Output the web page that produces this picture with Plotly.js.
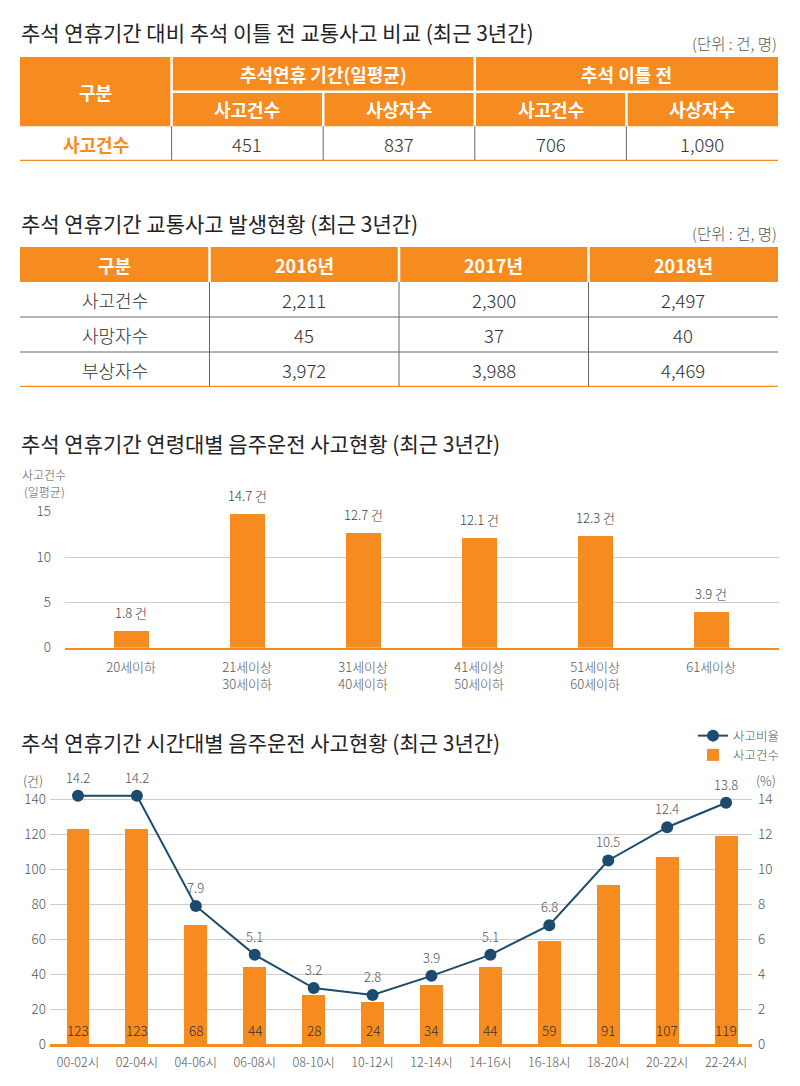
<!DOCTYPE html>
<html>
<head>
<meta charset="utf-8">
<script src="https://cdn.plot.ly/plotly-3.0.1.min.js"></script>
<style>
html,body{margin:0;padding:0;background:#ffffff;}
#chart{width:800px;height:1086px;}
</style>
</head>
<body>
<div id="chart"></div>
<script>
// ---------------- DATA ----------------
const titles = [
  '추석 연휴기간 대비 추석 이틀 전 교통사고 비교 (최근 3년간)',
  '추석 연휴기간 교통사고 발생현황 (최근 3년간)',
  '추석 연휴기간 연령대별 음주운전 사고현황 (최근 3년간)',
  '추석 연휴기간 시간대별 음주운전 사고현황 (최근 3년간)'
];
const unitNote = '(단위 : 건, 명)';

// Table 1
const t1Corner = '구분';
const t1Groups = ['추석연휴 기간(일평균)', '추석 이틀 전'];
const t1SubHeaders = ['사고건수', '사상자수', '사고건수', '사상자수'];
const t1RowLabel = '사고건수';
const t1Values = [451, 837, 706, 1090];

// Table 2
const t2Headers = ['구분', '2016년', '2017년', '2018년'];
const t2RowLabels = ['사고건수', '사망자수', '부상자수'];
const t2Y2016 = [2211, 45, 3972];
const t2Y2017 = [2300, 37, 3988];
const t2Y2018 = [2497, 40, 4469];

// Chart 3: age groups
const ageGroups = ['20세이하', '21세이상<br>30세이하', '31세이상<br>40세이하', '41세이상<br>50세이하', '51세이상<br>60세이하', '61세이상'];
const ageCounts = [1.8, 14.7, 12.7, 12.1, 12.3, 3.9];
const ageUnit = '건';
const ageAxisLabel = ['사고건수', '(일평균)'];

// Chart 4: time slots
const timeSlots = ['00-02시', '02-04시', '04-06시', '06-08시', '08-10시', '10-12시', '12-14시', '14-16시', '16-18시', '18-20시', '20-22시', '22-24시'];
const timeCounts = [123, 123, 68, 44, 28, 24, 34, 44, 59, 91, 107, 119];
const timeRates = [14.2, 14.2, 7.9, 5.1, 3.2, 2.8, 3.9, 5.1, 6.8, 10.5, 12.4, 13.8];
const countName = '사고건수';
const rateName = '사고비율';
const leftUnit = '(건)';
const rightUnit = '(%)';

// ---------------- STYLE ----------------
const W = 800, H = 1086;
const ORANGE = '#F68B1F';
const NAVY = '#1B4B6E';
const GRID = '#cccccc';
const FONT = '"Noto Sans CJK KR", "Noto Sans", sans-serif';
const LIGHT = 300;
const px = p => p / W;
const py = p => 1 - p / H;
const fmt = n => n.toLocaleString('en-US');

const shapes = [];
const annotations = [];

function line(xref, yref, x0, y0, x1, y1, color, width) {
  shapes.push({type: 'line', xref, yref, x0, y0, x1, y1, line: {color, width}, layer: 'above'});
}
function rect(xref, yref, x0, y0, x1, y1, color) {
  shapes.push({type: 'rect', xref, yref, x0, y0, x1, y1, fillcolor: color, line: {width: 0}, layer: 'below'});
}
function text(xref, yref, x, y, t, size, color, weight, extra) {
  annotations.push(Object.assign({xref, yref, x, y, text: t, showarrow: false,
    font: {family: FONT, size, color, weight: weight || 400}}, extra || {}));
}

// Titles
const titleY = [31.5, 222.5, 442.5, 742.5];
titles.forEach((t, i) => text('paper', 'paper', px(19), py(titleY[i]), t, 21, '#222222', 400, {xanchor: 'left', yanchor: 'middle'}));
text('paper', 'paper', px(779), py(42.5), unitNote, 15.5, '#555555', LIGHT, {xanchor: 'right', yanchor: 'middle'});
text('paper', 'paper', px(779), py(232.5), unitNote, 15.5, '#555555', LIGHT, {xanchor: 'right', yanchor: 'middle'});

// ---------- Table 1 (axes x4/y4) ----------
const nc1 = 1 + t1SubHeaders.length;
rect('x4', 'y4', 0, 0, nc1, 2, ORANGE);
text('x4', 'y4', 0.5, 1, t1Corner, 18, '#ffffff', 700);
t1Groups.forEach((g, i) => text('x4', 'y4', 1 + i * 2 + 1, 0.5, g, 18, '#ffffff', 700));
t1SubHeaders.forEach((s, i) => text('x4', 'y4', 1 + i + 0.5, 1.5, s, 18, '#ffffff', 700));
text('x4', 'y4', 0.5, 2.5, t1RowLabel, 18, ORANGE, 700);
t1Values.forEach((v, i) => text('x4', 'y4', 1 + i + 0.5, 2.5, fmt(v), 18.5, '#333333', LIGHT));
// header separators
line('x4', 'y4', 1, 0, 1, 2, '#ffffff', 2.5);
t1Groups.forEach((g, i) => { if (i > 0) line('x4', 'y4', 1 + i * 2, 0, 1 + i * 2, 2, '#ffffff', 2.5); });
line('x4', 'y4', 1, 1, nc1, 1, '#ffffff', 2.5);
t1SubHeaders.forEach((s, i) => { if (i > 0 && i % 2 === 1) line('x4', 'y4', 1 + i, 1, 1 + i, 2, '#ffffff', 2.5); });
// body separators
t1SubHeaders.forEach((s, i) => line('x4', 'y4', 1 + i, 2, 1 + i, 3, '#666666', 1));
line('x4', 'y4', 0, 3, nc1, 3, ORANGE, 2.5);

// ---------- Table 2 (axes x5/y5) ----------
const nc2 = t2Headers.length;
const nr2 = t2RowLabels.length;
rect('x5', 'y5', 0, 0, nc2, 1, ORANGE);
t2Headers.forEach((h, i) => text('x5', 'y5', i + 0.5, 0.5, h, 18, '#ffffff', 700));
for (let i = 1; i < nc2; i++) {
  line('x5', 'y5', i, 0, i, 1, '#ffffff', 2.5);
  line('x5', 'y5', i, 1, i, 1 + nr2, '#666666', 1);
}
for (let r = 1; r < nr2; r++) line('x5', 'y5', 0, 1 + r, nc2, 1 + r, '#666666', 1);
line('x5', 'y5', 0, 1 + nr2, nc2, 1 + nr2, ORANGE, 2.5);
const t2Cols = [t2Y2016, t2Y2017, t2Y2018];
t2RowLabels.forEach((lab, r) => {
  text('x5', 'y5', 0.5, 1 + r + 0.5, lab, 18, '#333333', LIGHT);
  t2Cols.forEach((col, c) => text('x5', 'y5', 1 + c + 0.5, 1 + r + 0.5, fmt(col[r]), 18.5, '#333333', LIGHT));
});

// ---------- Chart 3 labels ----------
ageGroups.forEach((g, i) => text('x', 'y', g, ageCounts[i], ageCounts[i] + ' ' + ageUnit, 13, '#444444', LIGHT, {yanchor: 'bottom', yshift: 7}));
text('paper', 'paper', px(44), py(475), ageAxisLabel[0], 12, '#555555', LIGHT, {xanchor: 'center', yanchor: 'middle', borderpad: 0});
text('paper', 'paper', px(44), py(492), ageAxisLabel[1], 12, '#555555', LIGHT, {xanchor: 'center', yanchor: 'middle', borderpad: 0});

// ---------- Chart 4 labels ----------
timeSlots.forEach((s, i) => {
  text('x2', 'y2', s, 0, String(timeCounts[i]), 13.5, '#333333', LIGHT, {yanchor: 'bottom', yshift: 2});
  text('x2', 'y3', s, timeRates[i], String(timeRates[i]), 13, '#555555', LIGHT, {yanchor: 'bottom', yshift: 7});
});
text('paper', 'paper', px(33), py(780), leftUnit, 13, '#555555', LIGHT, {xanchor: 'center', yanchor: 'middle'});
text('paper', 'paper', px(766), py(780), rightUnit, 13, '#555555', LIGHT, {xanchor: 'center', yanchor: 'middle'});

// ---------------- TRACES ----------------
const traces = [
  {type: 'bar', x: ageGroups, y: ageCounts, xaxis: 'x', yaxis: 'y', marker: {color: ORANGE}, width: 0.3, showlegend: false, hoverinfo: 'none'},
  {type: 'bar', x: timeSlots, y: timeCounts, xaxis: 'x2', yaxis: 'y2', name: countName, marker: {color: ORANGE}, width: 0.39, showlegend: true, hoverinfo: 'none'},
  {type: 'scatter', mode: 'lines+markers', x: timeSlots, y: timeRates, xaxis: 'x2', yaxis: 'y3', name: rateName, cliponaxis: false,
   line: {color: NAVY, width: 2}, marker: {color: NAVY, size: 12}, showlegend: true, hoverinfo: 'none'}
];

const tickFont = s => ({family: FONT, size: s, color: '#555555', weight: LIGHT});
const pxPerCount = 1.748;

const layout = {
  width: W, height: H,
  margin: {l: 0, r: 0, t: 0, b: 0},
  paper_bgcolor: '#ffffff', plot_bgcolor: 'rgba(0,0,0,0)',
  font: {family: FONT, color: '#333333'},
  showlegend: true,
  hovermode: false,
  bargap: 0,
  legend: {
    x: px(693), y: py(721), xanchor: 'left', yanchor: 'top',
    traceorder: 'reversed', font: {family: FONT, size: 12.5, color: '#555555', weight: LIGHT},
    bgcolor: 'rgba(0,0,0,0)', itemwidth: 30, tracegroupgap: 0
  },
  // Chart 3
  xaxis: {domain: [px(65), px(779)], type: 'category', range: [-0.57, 5.585], showgrid: false, zeroline: false,
          showline: true, linecolor: ORANGE, linewidth: 2.5, ticks: '', tickfont: tickFont(13), ticklabelstandoff: 6, fixedrange: true},
  yaxis: {domain: [py(647.7), py(511.2)], range: [0, 15.05], dtick: 5, tick0: 0, showgrid: true, gridcolor: GRID, gridwidth: 1,
          zeroline: false, showline: false, ticks: '', tickfont: tickFont(13.5), ticklabelstandoff: 13, fixedrange: true},
  // Chart 4
  xaxis2: {domain: [px(50), px(752)], anchor: 'y2', type: 'category', range: [-0.475, 11.44], showgrid: false, zeroline: false,
           showline: true, linecolor: ORANGE, linewidth: 2.5, ticks: '', tickfont: tickFont(12.5), ticklabelstandoff: 5, fixedrange: true},
  yaxis2: {domain: [py(1044), py(1044 - 143 * pxPerCount)], anchor: 'x2', range: [0, 143], tickvals: [0, 20, 40, 60, 80, 100, 120, 140],
           showgrid: true, gridcolor: GRID, gridwidth: 1,
           zeroline: false, showline: false, ticks: '', tickfont: tickFont(13.5), ticklabelstandoff: 3, fixedrange: true},
  yaxis3: {overlaying: 'y2', anchor: 'x2', side: 'right', range: [0, 14.3], tickvals: [0, 2, 4, 6, 8, 10, 12, 14], showgrid: false,
           zeroline: false, showline: false, ticks: '', tickfont: tickFont(13.5), ticklabelstandoff: 5, fixedrange: true},
  // Table 1
  xaxis4: {domain: [px(20), px(778)], anchor: 'y4', range: [0, nc1], visible: false, fixedrange: true},
  yaxis4: {domain: [py(161), py(57)], anchor: 'x4', range: [3, 0], visible: false, fixedrange: true},
  // Table 2
  xaxis5: {domain: [px(20), px(778)], anchor: 'y5', range: [0, nc2], visible: false, fixedrange: true},
  yaxis5: {domain: [py(387), py(247)], anchor: 'x5', range: [1 + nr2, 0], visible: false, fixedrange: true},
  shapes: shapes,
  annotations: annotations
};

Plotly.newPlot('chart', traces, layout, {displayModeBar: false, staticPlot: true});
</script>
</body>
</html>
